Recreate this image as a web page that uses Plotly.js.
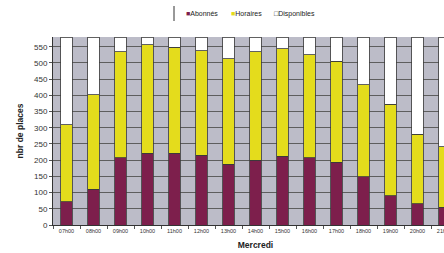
<!DOCTYPE html>
<html>
<head>
<meta charset="utf-8">
<script src="https://cdn.plot.ly/plotly-3.0.1.min.js"></script>
<style>
html,body{margin:0;padding:0;overflow:hidden;width:444px;height:253px;background:#fff;}
#chart{width:460px;height:253px;}
</style>
</head>
<body>
<div id="chart"></div>
<script>
const categories = ["07h00","08h00","09h00","10h00","11h00","12h00","13h00","14h00","15h00","16h00","17h00","18h00","19h00","20h00","21h00"];
const abonnes    = [72, 111, 208, 222, 222, 215, 187, 200, 212, 207, 193, 149, 90, 65, 55];
const horaires   = [238, 291, 327, 334, 327, 323, 326, 335, 332, 319, 312, 284, 282, 215, 186];
const disponibles= [270, 178, 45, 24, 31, 42, 67, 45, 36, 54, 75, 147, 208, 300, 339];
const seriesNames = ["Abonnés", "Horaires", "Disponibles"];
const seriesColors = ["#7d1f4c", "#e4dc1c", "#ffffff"];
const yTicks = [0,50,100,150,200,250,300,350,400,450,500,550];

const font = "Liberation Sans, Arial, sans-serif";
const values = [abonnes, horaires, disponibles];
const traces = values.map((v, i) => ({
  type: "bar",
  x: categories,
  y: v,
  name: seriesNames[i],
  marker: {color: seriesColors[i], line: {color: "#3a3a3a", width: 0.8}},
  hoverinfo: "skip"
}));

const legendAnn = [
  {x: 184, text: '<span style="color:#7d1f4c">■</span>Abonnés'},
  {x: 229, text: '<span style="color:#e4dc1c">■</span>Horaires'},
  {x: 272, text: '□Disponibles'}
].map(a => ({
  xref: "paper", yref: "paper", x: (a.x - 53) / 405, y: 1 + (37 - 14) / 188,
  xanchor: "left", yanchor: "middle", showarrow: false, text: a.text,
  font: {family: font, size: 7, color: "#222"}
}));

const layout = {
  width: 460, height: 253,
  margin: {l: 53, r: 2, t: 37, b: 28},
  paper_bgcolor: "#ffffff",
  plot_bgcolor: "#bcbcc8",
  barmode: "stack",
  bargap: 0.58,
  showlegend: false,
  font: {family: font, color: "#222"},
  xaxis: {
    type: "category",
    tickfont: {size: 5.5, color: "#333"},
    showline: true, linecolor: "#333", linewidth: 1,
    ticks: "outside", ticklen: 3, tickcolor: "#555", tickson: "boundaries",
    showgrid: false,
    title: {text: "Mercredi", font: {size: 8.5, color: "#222", weight: "bold"}, standoff: 9},
    automargin: false
  },
  yaxis: {
    range: [0, 580],
    tickvals: yTicks,
    tickfont: {size: 8, color: "#333"},
    showline: true, linecolor: "#333", linewidth: 1,
    ticks: "outside", ticklen: 3, tickcolor: "#555",
    showgrid: true, gridcolor: "#5e5e5e", gridwidth: 1,
    zeroline: false,
    title: {text: "nbr de places", font: {size: 8.5, color: "#222", weight: "bold"}, standoff: 9},
    automargin: false
  },
  annotations: legendAnn,
  shapes: [{type: "line", xref: "paper", yref: "paper",
    x0: (174 - 53) / 405, x1: (174 - 53) / 405,
    y0: 1 + (37 - 6) / 188, y1: 1 + (37 - 21) / 188,
    line: {color: "#333", width: 1}}]
};

Plotly.newPlot("chart", traces, layout, {staticPlot: true, displayModeBar: false});
</script>
</body>
</html>
